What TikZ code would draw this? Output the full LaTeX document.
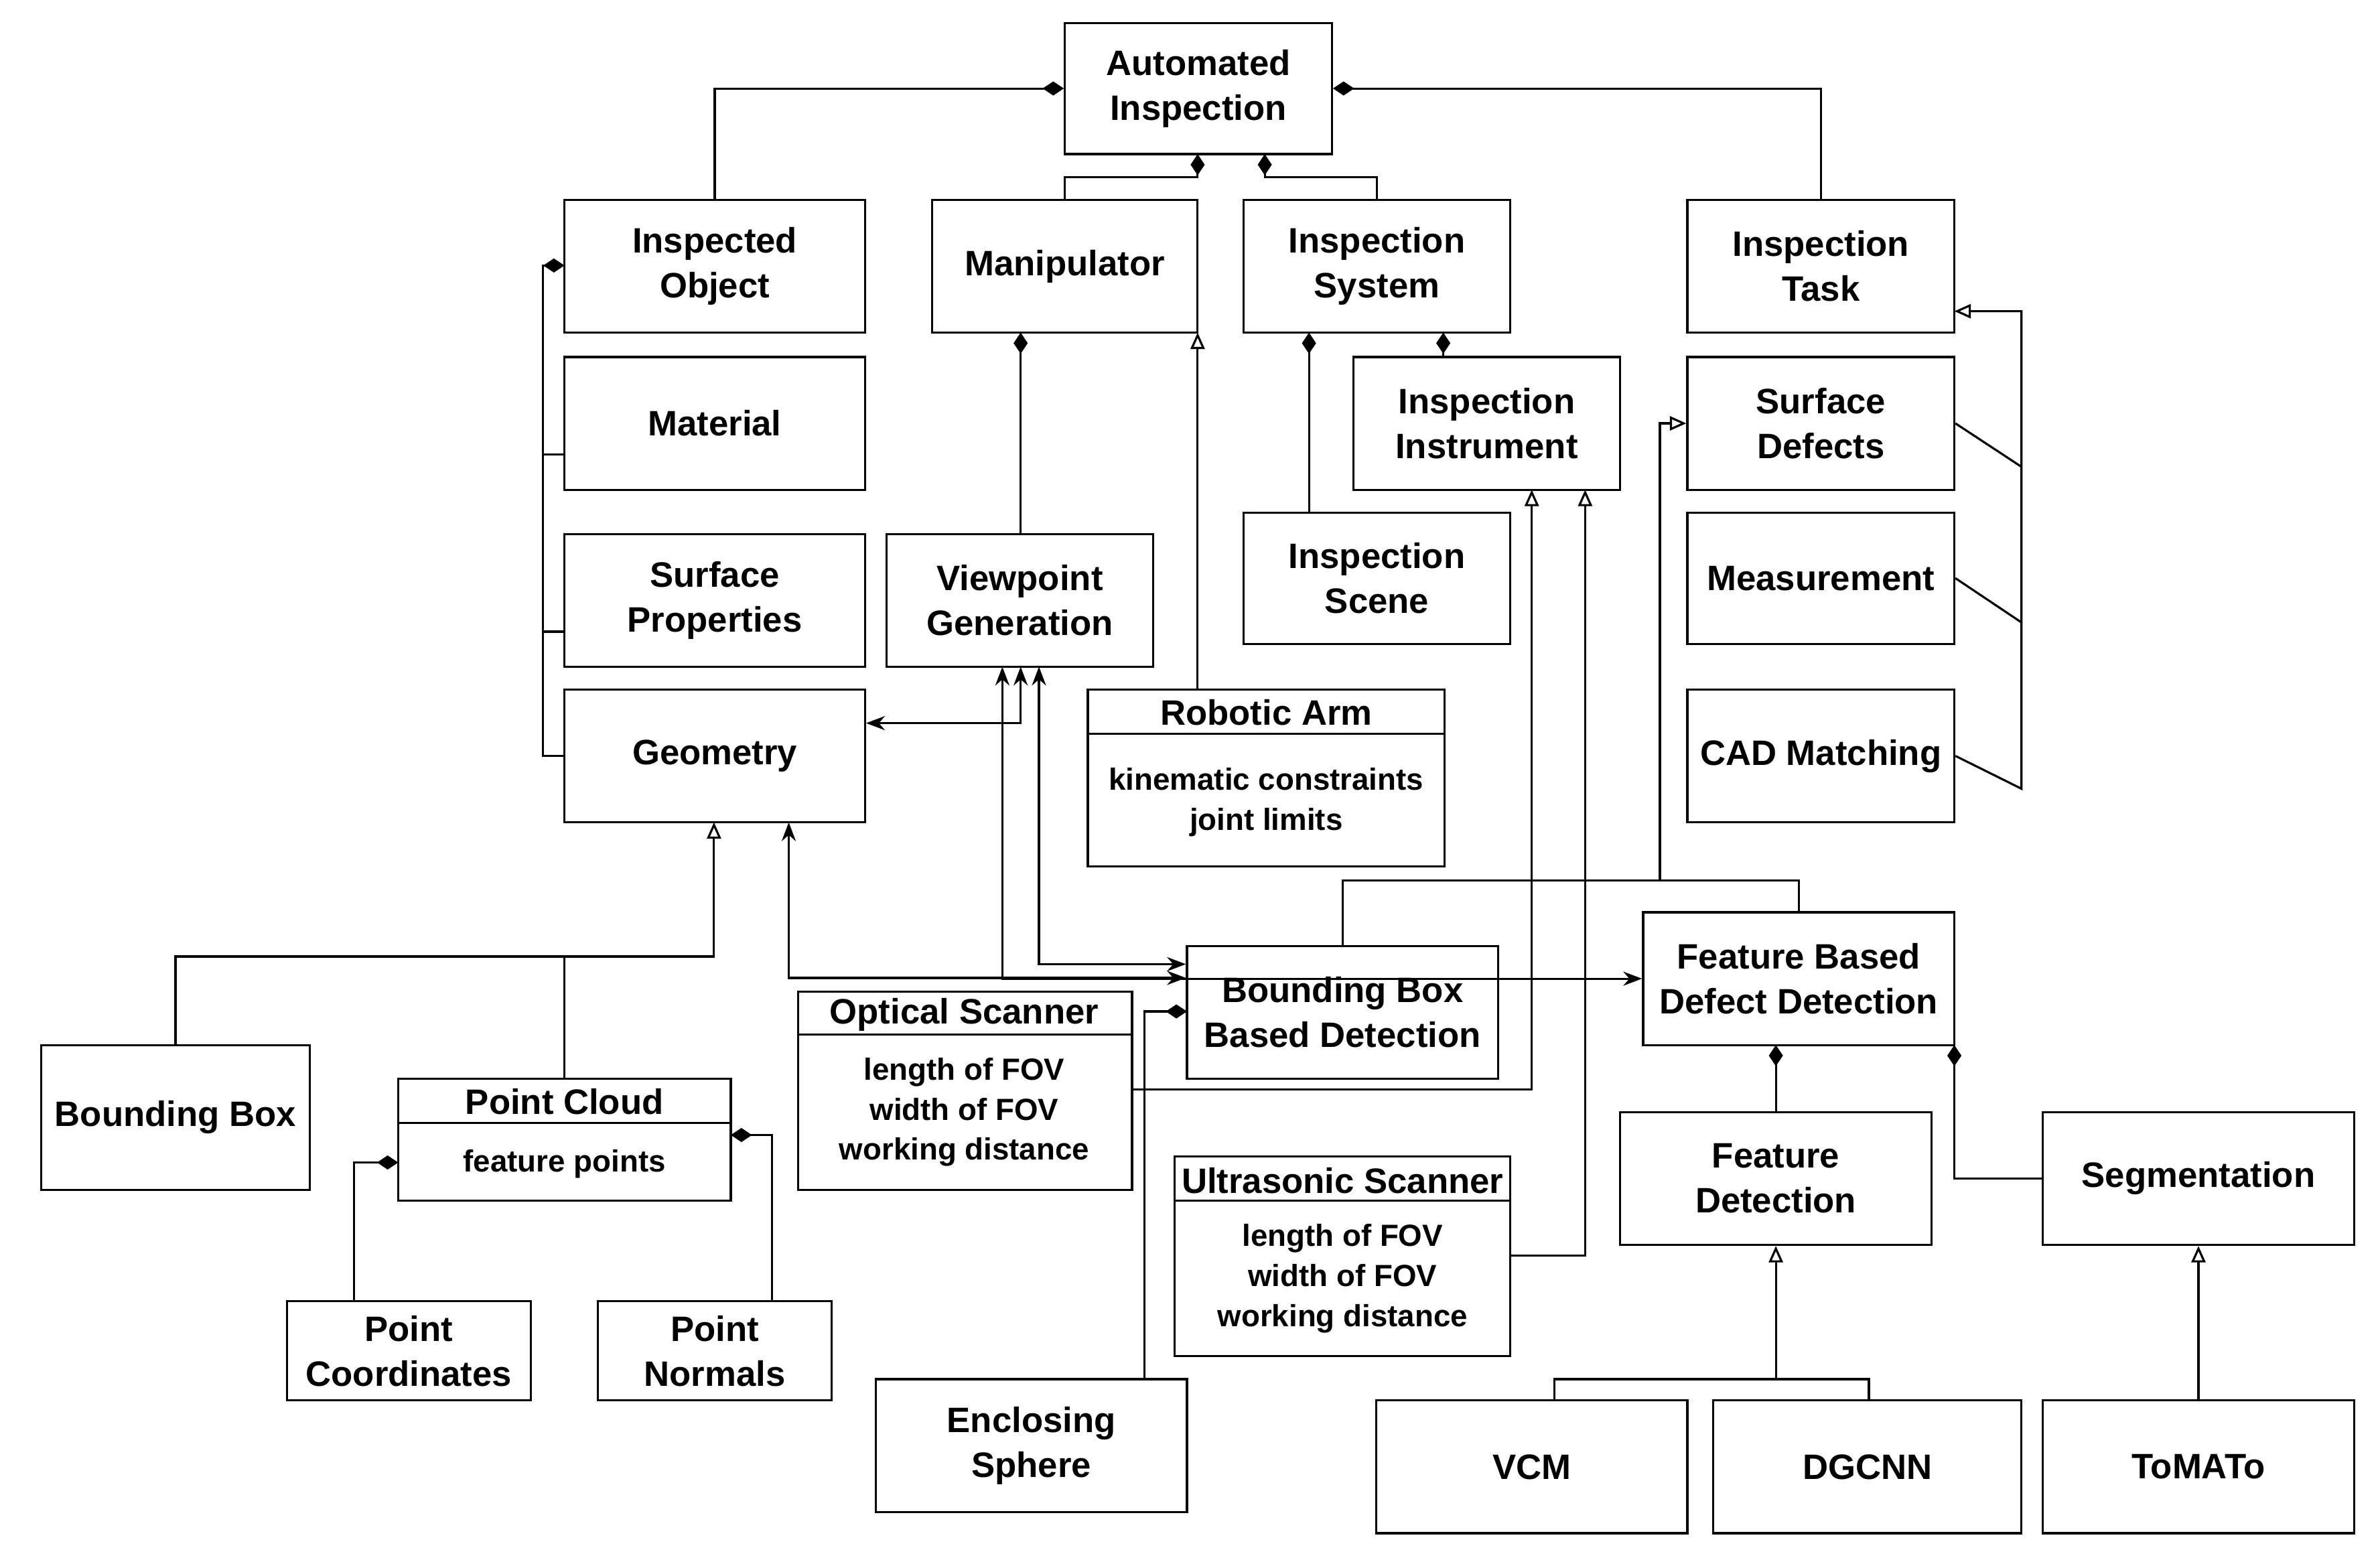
\documentclass[tikz,border=0pt]{standalone}
\usepackage{fontspec}
\setmainfont{Liberation Sans}
\usetikzlibrary{arrows.meta}
\begin{document}
\begin{tikzpicture}[x=0.022776cm,y=-0.022776cm,
  box/.style={draw,line width=0.9pt,inner sep=0pt,align=center,font=\fontsize{15}{19}\selectfont\bfseries},
  ln/.style={line width=0.9pt},
  dia/.style={ln,{Diamond[length=9pt,width=6pt]}-},
  tri/.style={ln,-{Triangle[open,length=7pt,width=6pt]}},
  arr/.style={ln,-{Stealth[length=8pt,width=6pt]}},
  darr/.style={ln,{Stealth[length=8pt,width=6pt]}-{Stealth[length=8pt,width=6pt]}},
  sm/.style={font=\fontsize{13}{17}\selectfont\bfseries,align=center}]
\useasboundingbox (0,0) rectangle (1560,1021);
\newcommand{\bx}[6]{\node[box,minimum width={(#4-#2)*0.022776cm},minimum height={(#5-#3)*0.022776cm}] (#1) at ({(#2+#4)/2},{(#3+#5)/2}) {#6};}
\bx{ai}{698}{15}{873}{101}{Automated\\Inspection}
\bx{io}{370}{131}{567}{218}{Inspected\\Object}
\bx{ma}{611}{131}{785}{218}{Manipulator}
\bx{is}{815}{131}{990}{218}{Inspection\\System}
\bx{it}{1106}{131}{1281}{218}{Inspection\\Task}
\bx{mat}{370}{234}{567}{321}{Material}
\bx{sp}{370}{350}{567}{437}{Surface\\Properties}
\bx{geo}{370}{452}{567}{539}{Geometry}
\bx{vg}{581}{350}{756}{437}{Viewpoint\\Generation}
\bx{ii}{887}{234}{1062}{321}{Inspection\\Instrument}
\bx{isc}{815}{336}{990}{422}{Inspection\\Scene}
\bx{sd}{1106}{234}{1281}{321}{Surface\\Defects}
\bx{me}{1106}{336}{1281}{422}{Measurement}
\bx{cad}{1106}{452}{1281}{539}{CAD Matching}
\bx{ra}{713}{452}{947}{568}{}
\draw[ln] (713,481) -- (947,481);
\node[sm,font=\fontsize{15}{19}\selectfont\bfseries] at (830,467) {Robotic Arm};
\node[sm] at (830,526) {kinematic constraints\\joint limits};
\bx{bb}{27}{685}{203}{780}{Bounding Box}
\bx{pc}{261}{707}{479}{787}{}
\draw[ln] (261,736) -- (479,736);
\node[sm,font=\fontsize{15}{19}\selectfont\bfseries] at (370,722) {Point Cloud};
\node[sm] at (370,763) {feature points};
\bx{pco}{188}{853}{348}{918}{Point\\Coordinates}
\bx{pn}{392}{853}{545}{918}{Point\\Normals}
\bx{os}{523}{650}{742}{780}{}
\draw[ln] (523,678) -- (742,678);
\node[sm,font=\fontsize{15}{19}\selectfont\bfseries] at (632,665) {Optical Scanner};
\node[sm] at (632,729) {length of FOV\\width of FOV\\working distance};
\bx{bbd}{778}{620}{982}{707}{Bounding Box\\Based Detection}
\bx{fbd}{1077}{598}{1281}{685}{Feature Based\\Defect Detection}
\bx{us}{770}{758}{990}{889}{}
\draw[ln] (770,787) -- (990,787);
\node[sm,font=\fontsize{15}{19}\selectfont\bfseries] at (880,774) {Ultrasonic Scanner};
\node[sm] at (880,838) {length of FOV\\width of FOV\\working distance};
\bx{es}{574}{904}{778}{991}{Enclosing\\Sphere}
\bx{fd}{1062}{729}{1266}{816}{Feature\\Detection}
\bx{seg}{1339}{729}{1543}{816}{Segmentation}
\bx{vcm}{902}{918}{1106}{1005}{VCM}
\bx{dg}{1123}{918}{1325}{1005}{DGCNN}
\bx{tom}{1339}{918}{1543}{1005}{ToMATo}
% composition to AI
\draw[dia] (ai.west) -| (io.north);
\draw[dia] (ai.east) -| (it.north);
\draw[dia] (785,101) -- (785,116) -| (ma.north);
\draw[dia] (829,101) -- (829,116) -| (is.north);
% inspected object
\draw[dia] (370,174) -- (356,174) |- (geo.west);
\draw[ln] (356,298) -- (370,298);
\draw[ln] (356,414) -- (370,414);
% manipulator
\draw[dia] (669,218) -- (vg.north -| 669,0);
\draw[tri] (ra.north -| 785,0) -- (785,218);
% inspection system
\draw[dia] (858,218) -- (isc.north -| 858,0);
\draw[dia] (946,218) -- (ii.north -| 946,0);
% task
\draw[tri] (cad.east) -- (1325,517) |- (1281,204);
\draw[ln] (sd.east) -- (1325,306);
\draw[ln] (me.east) -- (1325,408);
% surface defects
\draw[ln] (bbd.north) |- (1179,577) -- (fbd.north);
\draw[tri] (1088,577) |- (sd.west);
% viewpoint arrows
\draw[darr] (geo.east |- 0,474) -| (669,437);
\draw[darr] (657,437) |- (fbd.west);
\draw[darr] (681,437) |- (bbd.west |- 0,632);
\draw[darr] (517,539) |- (bbd.west |- 0,641);
% geometry inheritance
\draw[tri] (bb.north) |- (468,627) -- (468,539);
\draw[ln] (pc.north) -- (370,627);
% point cloud
\draw[dia] (261,762) -| (pco.north -| 232,0);
\draw[dia] (479,744) -| (pn.north -| 506,0);
% scanners
\draw[tri] (os.east |- 0,714) -| (1004,321);
\draw[tri] (us.east |- 0,823) -| (1039,321);
\draw[dia] (778,663) -| (es.north -| 750,0);
% FBDD
\draw[dia] (1164,685) -- (fd.north -| 1164,0);
\draw[dia] (1281,685) |- (seg.west);
\draw[tri] (vcm.north -| 1019,0) |- (1164,904) -- (fd.south -| 1164,0);
\draw[ln] (dg.north -| 1225,0) |- (1164,904);
\draw[tri] (tom.north) -- (seg.south);
\end{tikzpicture}
\end{document}
